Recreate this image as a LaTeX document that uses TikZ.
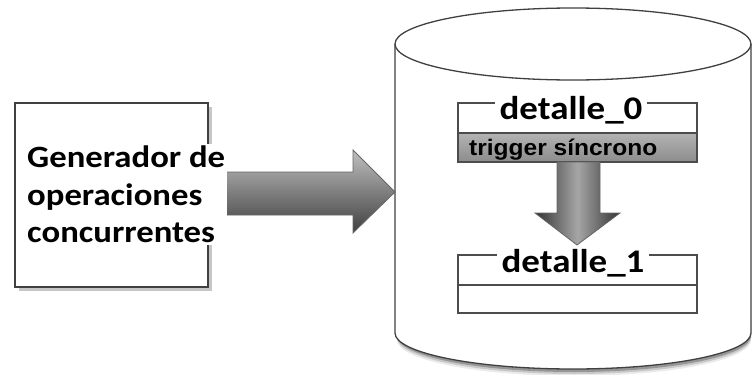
\documentclass[tikz,border=0pt]{standalone}
\usepackage{fontspec}
\setmainfont{Carlito}
\newfontfamily\labfont[FakeStretch=1.12]{Carlito}
\newfontfamily\trigfont[FakeStretch=1.09]{Liberation Sans}
\usetikzlibrary{shadows}
\begin{document}
\begin{tikzpicture}[x=1pt,y=-1pt,
  edge/.style={draw=black!75,line width=1.3pt},
  lbl/.style={font=\labfont\bfseries\fontsize{31}{37.5}\selectfont,fill=white,inner sep=2pt},
  tlbl/.style={font=\labfont\bfseries\fontsize{33}{37}\selectfont,fill=white,inner xsep=5pt,inner ysep=1pt},
  tablebox/.style={draw=black!70,line width=1.2pt},
  bigarrow/.style={draw=black!60,line width=0.8pt}]
\useasboundingbox (0,0) rectangle (753,375);
% cylinder shadow
\foreach \o/\op in {7/0.08,5/0.15,3/0.25}{
  \fill[black,opacity=\op] (397,333+\o) arc[start angle=180,end angle=0,x radius=177,y radius=36] -- (751,320) -- (397,320) -- cycle;}
% cylinder
\fill[white] (395,44) -- (395,333) arc[start angle=180,end angle=0,x radius=178,y radius=36] -- (751,44) -- cycle;
\draw[edge] (395,44) -- (395,333) arc[start angle=180,end angle=0,x radius=178,y radius=36] -- (751,44);
\draw[edge] (573,44) ellipse[x radius=178,y radius=36];
\coordinate (db) at (395,192);
% left box
\node[draw=black!75,line width=1.3pt,fill=white,minimum width=193pt,minimum height=184pt,inner sep=0pt,
  drop shadow={shadow xshift=4pt,shadow yshift=-4pt,opacity=0.45}] (gen) at (111.5,195) {};
% right big arrow
\shade[bigarrow,top color=black!25,bottom color=black!75] (222,172) -- (353,172) -- (353,150) -- (db) -- (353,233) -- (353,215) -- (222,215) -- cycle;
\node[lbl,anchor=north west,align=left] (gtext) at (25,144) {Generador de\\operaciones\\concurrentes};
% detalle_0
\shade[top color=black!30,bottom color=black!45,draw=black!70,line width=1.2pt] (458,133) rectangle (697,162);
\draw[tablebox] (458,103) rectangle (697,162) (458,133) -- (697,133);
\node[tlbl,anchor=base] (d0) at (571,119) {detalle\_0};
\node[font=\trigfont\bfseries\fontsize{22.5}{24}\selectfont,anchor=base west,inner sep=0pt] (trig) at (469,155) {trigger síncrono};
% detalle_1
\draw[tablebox] (458,255) rectangle (697,313) (458,285) -- (697,285);
\node[tlbl,anchor=base] (d1) at (573,272) {detalle\_1};
% down arrow
\shade[bigarrow,left color=black!80,right color=black!80,middle color=black!35] (557,162) -- (600,162) -- (600,213) -- (620,213) -- (577,245) -- (535,213) -- (557,213) -- cycle;
\end{tikzpicture}
\end{document}
